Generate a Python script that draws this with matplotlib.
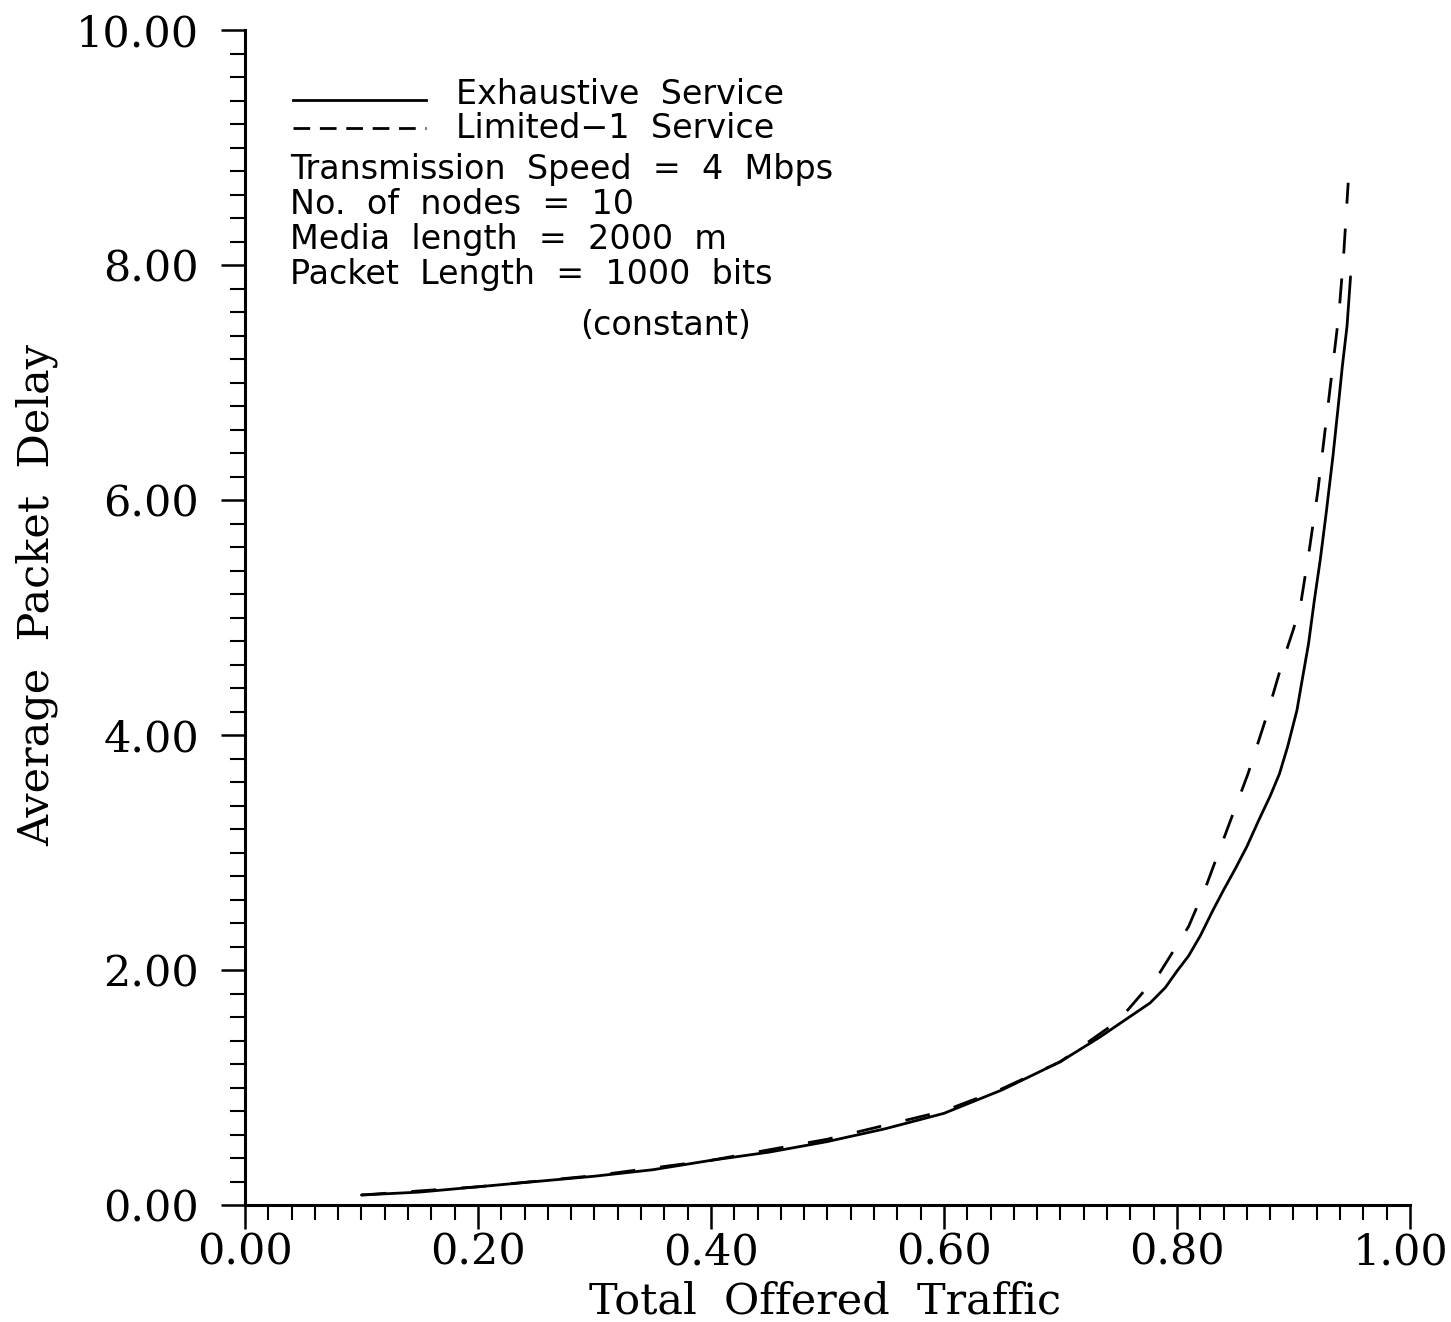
import matplotlib
matplotlib.use("Agg")
import matplotlib.pyplot as plt
from matplotlib.ticker import MultipleLocator, FormatStrFormatter
from matplotlib.transforms import ScaledTranslation

# delay vs offered traffic, exhaustive service
exh_x = [0.10, 0.15, 0.20, 0.25, 0.30, 0.35, 0.40, 0.45, 0.50, 0.55, 0.60,
         0.65, 0.70, 0.734, 0.777, 0.79, 0.80, 0.81, 0.82, 0.831, 0.84,
         0.85, 0.86, 0.87, 0.88, 0.888, 0.895, 0.903, 0.907, 0.913, 0.918,
         0.923, 0.928, 0.934, 0.939, 0.942, 0.946, 0.949]
exh_y = [0.085, 0.11, 0.155, 0.20, 0.245, 0.30, 0.38, 0.45, 0.54, 0.65, 0.78,
         0.98, 1.22, 1.43, 1.72, 1.85, 1.99, 2.12, 2.29, 2.51, 2.68,
         2.86, 3.05, 3.27, 3.48, 3.67, 3.90, 4.21, 4.44, 4.78, 5.15,
         5.49, 5.88, 6.38, 6.85, 7.14, 7.48, 7.90]

# limited-1 service
lim_x = [0.10, 0.20, 0.30, 0.40, 0.50, 0.60, 0.65, 0.70, 0.75, 0.77, 0.783,
         0.81, 0.826, 0.844, 0.861, 0.877, 0.89, 0.90, 0.906, 0.914, 0.921,
         0.927, 0.933, 0.939, 0.943, 0.947]
lim_y = [0.085, 0.155, 0.25, 0.38, 0.56, 0.80, 0.99, 1.22, 1.57, 1.80, 1.94,
         2.37, 2.74, 3.22, 3.67, 4.16, 4.60, 4.90, 5.10, 5.60, 6.08,
         6.58, 7.08, 7.58, 8.07, 8.70]

labels = ["Exhaustive  Service", "Limited\u22121  Service"]
params = ["Transmission  Speed  =  4  Mbps",
          "No.  of  nodes  =  10",
          "Media  length  =  2000  m",
          "Packet  Length  =  1000  bits"]

fig = plt.figure(figsize=(14.51, 13.22), dpi=100)
ax = fig.add_axes([0.1688, 0.0885, 0.8029, 0.8888])

ax.plot(exh_x, exh_y, color="black", lw=2.0, solid_capstyle="round")
ax.plot(lim_x, lim_y, color="black", lw=2.0, dashes=(9, 9))

ax.set_xlim(0, 1.0)
ax.set_ylim(0, 10.0)
for s in ["top", "right"]:
    ax.spines[s].set_visible(False)
for s in ["left", "bottom"]:
    ax.spines[s].set_linewidth(2.2)

ax.xaxis.set_major_locator(MultipleLocator(0.2))
ax.xaxis.set_minor_locator(MultipleLocator(0.02))
ax.yaxis.set_major_locator(MultipleLocator(2.0))
ax.yaxis.set_minor_locator(MultipleLocator(0.2))
ax.xaxis.set_major_formatter(FormatStrFormatter("%.2f"))
ax.yaxis.set_major_formatter(FormatStrFormatter("%.2f"))
ax.tick_params(which="major", direction="out", length=17, width=1.8,
               labelsize=31)
ax.tick_params(which="minor", direction="out", length=11, width=1.5)
ax.tick_params(axis="x", which="major", pad=2)
ax.tick_params(axis="y", which="major", pad=16)
for t in ax.get_xticklabels() + ax.get_yticklabels():
    t.set_family("DejaVu Serif")

# the 1.00 label sits against the figure edge, nudge it in a little
fig.canvas.draw()
for t in ax.get_xticklabels():
    if t.get_text() == "1.00":
        t.set_transform(t.get_transform()
                        + ScaledTranslation(-0.09, 0, fig.dpi_scale_trans))

ax.set_xlabel("Total  Offered  Traffic", family="DejaVu Serif", fontsize=31)
ax.set_ylabel("Average  Packet  Delay", family="DejaVu Serif", fontsize=31)
ax.xaxis.set_label_coords(0.498, -0.064)
ax.yaxis.set_label_coords(-0.160, 0.519)

# key and run parameters in the upper left
tr = ax.transAxes
ax.plot([0.041, 0.155], [0.9404, 0.9404], transform=tr, color="black", lw=2.0)
ax.plot([0.041, 0.155], [0.9166, 0.9166], transform=tr, color="black", lw=2.0,
        dashes=(6, 3.5))
ax.text(0.181, 0.9447, labels[0], transform=tr, fontsize=24, va="center",
        family="DejaVu Sans")
ax.text(0.181, 0.9166, labels[1], transform=tr, fontsize=24, va="center",
        family="DejaVu Sans")
for i, line in enumerate(params):
    ax.text(0.0386, 0.8809 - i * 0.0298, line, transform=tr, fontsize=24,
            va="center", family="DejaVu Sans")
ax.text(0.2876, 0.7489, "(constant)", transform=tr, fontsize=24,
        va="center", family="DejaVu Sans")

fig.savefig("out.png", dpi=100, facecolor="white")
